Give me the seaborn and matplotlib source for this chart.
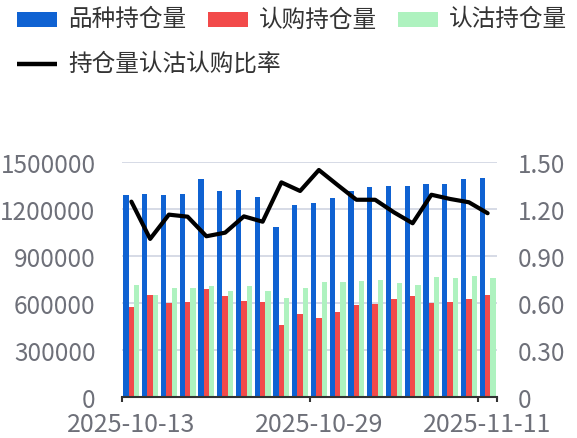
import numpy as np
import pandas as pd
import matplotlib
matplotlib.use("Agg")
import matplotlib.pyplot as plt
from matplotlib.patches import Rectangle
from matplotlib.lines import Line2D
import seaborn as sns

dates = ["2025-10-13", "2025-10-14", "2025-10-15", "2025-10-16", "2025-10-17",
         "2025-10-20", "2025-10-21", "2025-10-22", "2025-10-23", "2025-10-24",
         "2025-10-29", "2025-10-30", "2025-10-31", "2025-11-03", "2025-11-04",
         "2025-11-05", "2025-11-06", "2025-11-07", "2025-11-10", "2025-11-11"]
total_oi = [1289000, 1296000, 1289000, 1298000, 1390000, 1313000, 1319000, 1279000, 1085000, 1226000,
            1236000, 1268000, 1317000, 1338000, 1345000, 1349000, 1358000, 1358000, 1390000, 1400000]
call_oi = [576000, 649000, 600000, 604000, 687000, 645000, 615000, 604000, 462000, 530000,
           504000, 543000, 587000, 596000, 623000, 643000, 597000, 604000, 623000, 649000]
put_oi = [715000, 651000, 694000, 696000, 706000, 674000, 709000, 677000, 632000, 698000,
          732000, 732000, 740000, 749000, 728000, 713000, 766000, 760000, 772000, 758000]
pc_ratio = [1.247, 1.009, 1.164, 1.151, 1.026, 1.049, 1.153, 1.119, 1.370, 1.315,
            1.449, 1.353, 1.259, 1.259, 1.179, 1.109, 1.291, 1.264, 1.243, 1.173]
series_names = ["品种持仓量", "认购持仓量", "认沽持仓量"]
line_name = "持仓量认沽认购比率"
shown_labels = ["2025-10-13", "2025-10-29", "2025-11-11"]
left_ticks = [0, 300000, 600000, 900000, 1200000, 1500000]
right_ticks = [0, 0.30, 0.60, 0.90, 1.20, 1.50]

colors = ["#0F62D2", "#F24A4A", "#AEF2BF"]
text_color = "#6E7079"
grid_color = "#D6DBE6"
axis_color = "#333333"

sns.set_style("white")
plt.rcParams["font.family"] = ["Noto Sans CJK SC", "DejaVu Sans"]

df = pd.DataFrame({"date": dates * 3,
                   "value": total_oi + call_oi + put_oi,
                   "series": [series_names[0]] * len(dates) + [series_names[1]] * len(dates) + [series_names[2]] * len(dates)})

W, H = 577, 439
fig = plt.figure(figsize=(W / 100, H / 100), dpi=100)
ax = fig.add_axes([122 / W, 1 - 398 / H, (497 - 122) / W, (398 - 163) / H])

sns.barplot(data=df, x="date", y="value", hue="series", hue_order=series_names,
            palette=colors, width=0.86, gap=0, ax=ax, legend=False, saturation=1,
            linewidth=0, zorder=3)

ax2 = ax.twinx()
idx = np.arange(len(dates))
sns.lineplot(x=idx, y=pc_ratio, ax=ax2, color="black", linewidth=3, zorder=5)

ax.set_xlim(-0.5, len(dates) - 0.5)
ax.set_ylim(0, 1500000)
ax2.set_ylim(0, 1.5)

ax.set_yticks(left_ticks)
ax.set_yticklabels([f"{v:d}" for v in left_ticks])
ax2.set_yticks(right_ticks)
ax2.set_yticklabels(["0" if v == 0 else f"{v:.2f}" for v in right_ticks])

label_pos = [dates.index(d) for d in shown_labels]
ax.set_xticks(label_pos)
ax.set_xticklabels(shown_labels)
ax.tick_params(axis="x", length=0, pad=10, labelsize=18, labelcolor=text_color)
for b in [-0.5, 9.5, 18.5, 19.5]:
    ax.plot([b, b], [0, -0.022], transform=ax.get_xaxis_transform(), color=axis_color,
            lw=1.5, clip_on=False, zorder=6, solid_capstyle="butt")

ax.set_xlabel("")
ax.set_ylabel("")
ax2.set_ylabel("")
ax.tick_params(axis="y", length=0, pad=19, labelsize=17.5, labelcolor=text_color)
ax2.tick_params(axis="y", length=0, pad=15, labelsize=17.5, labelcolor=text_color)

ax.grid(axis="y", color=grid_color, linewidth=1.4, zorder=0)
ax.set_axisbelow(True)
for a in (ax, ax2):
    for s in ["top", "left", "right", "bottom"]:
        a.spines[s].set_visible(False)
ax.spines["bottom"].set_visible(True)
ax.spines["bottom"].set_color(axis_color)
ax.spines["bottom"].set_linewidth(1.5)
ax.spines["bottom"].set_zorder(6)

def fx(px):
    return px / W

def fy(py):
    return 1 - py / H

leg_items = [(17, series_names[0], colors[0]), (208, series_names[1], colors[1]), (398, series_names[2], colors[2])]
for x0, name, c in leg_items:
    fig.patches.append(Rectangle((fx(x0), fy(27.5)), 40 / W, 15 / H, transform=fig.transFigure,
                                 facecolor=c, edgecolor="none"))
    fig.text(fx(x0 + 51), fy(20), name, fontsize=17, color="#333333", va="center", ha="left")
fig.lines.append(Line2D([fx(17), fx(57)], [fy(65), fy(65)], transform=fig.transFigure,
                        color="black", linewidth=3.2, solid_capstyle="butt"))
fig.text(fx(68), fy(64), line_name, fontsize=17, color="#333333", va="center", ha="left")

fig.savefig("out.png", dpi=100)
